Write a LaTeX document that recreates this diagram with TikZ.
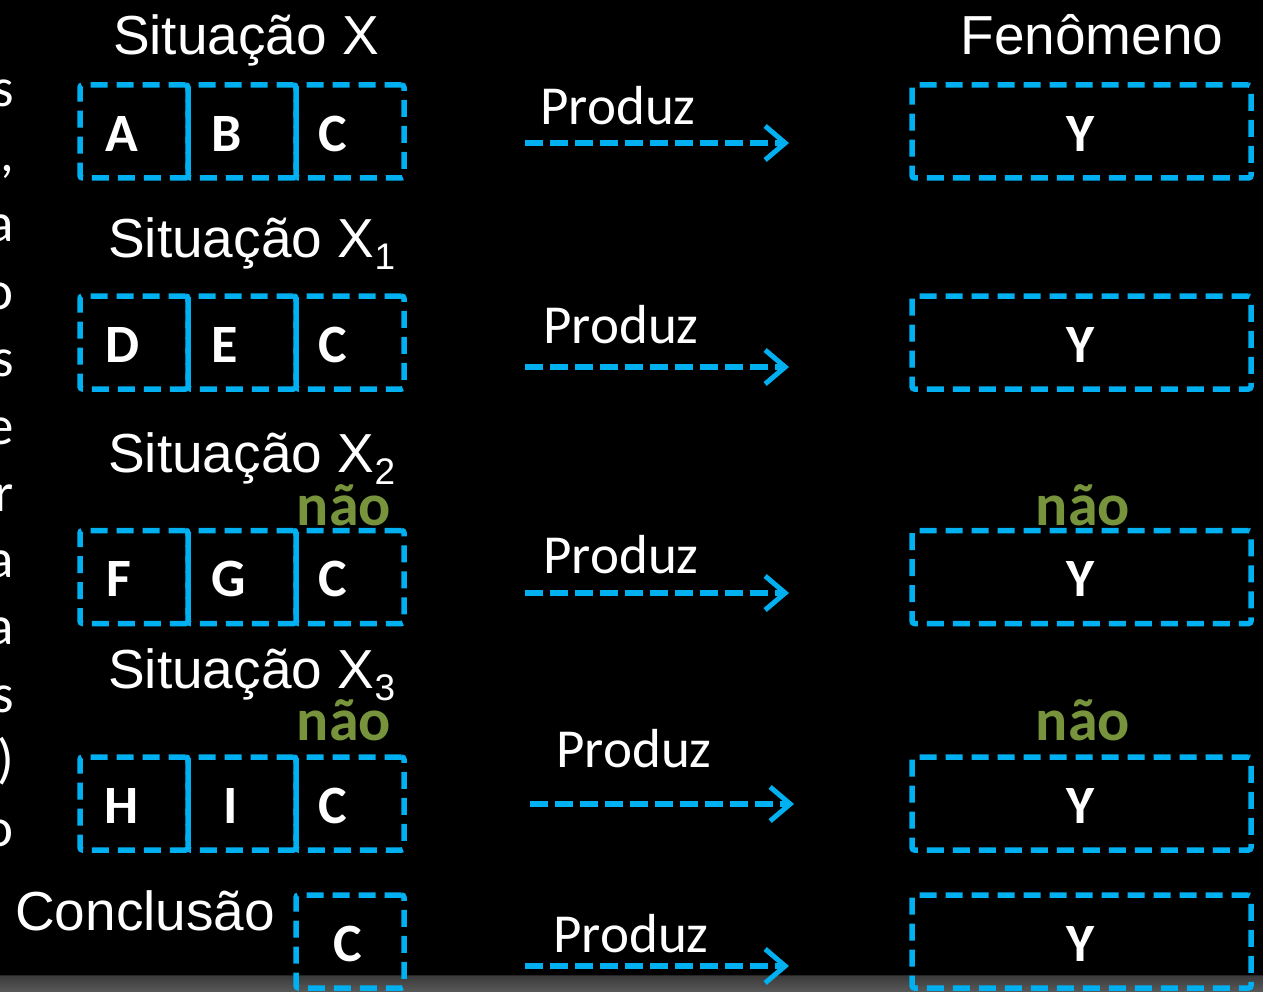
\documentclass[tikz,border=0pt]{standalone}
\usepackage{fontspec}
\setmainfont{Liberation Sans}
\newfontfamily\calibri{Carlito}
\usetikzlibrary{arrows.meta}
\definecolor{skyblue}{HTML}{00B0F0}
\definecolor{olivegreen}{HTML}{77933C}
\begin{document}
\begin{tikzpicture}[x=1pt,y=-1pt,
  dbox/.style={draw=skyblue, line width=5.5pt, dash pattern=on 17pt off 9pt,
    rounded corners=2.5pt, minimum width=108pt, minimum height=93pt, inner sep=0pt},
  ybox/.style={dbox, minimum width=339pt},
  letter/.style={text=white, font=\calibri\bfseries\fontsize{54}{54}\selectfont, inner sep=0pt},
  title/.style={text=white, font=\fontsize{55}{60}\selectfont, inner sep=0pt, anchor=base},
  sub/.style={text=white, font=\fontsize{37}{40}\selectfont, inner sep=0pt, anchor=base west},
  produz/.style={text=white, font=\calibri\fontsize{55}{60}\selectfont, inner sep=0pt, anchor=base},
  nao/.style={text=olivegreen, font=\calibri\bfseries\fontsize{60}{60}\selectfont, inner sep=0pt, anchor=base},
  edge/.style={text=white, font=\calibri\fontsize{55}{60}\selectfont, inner sep=0pt, anchor=base east},
  flow/.style={draw=skyblue, line width=6pt, dash pattern=on 18pt off 7pt,
    -{Straight Barb[length=20pt,width=34pt,line width=5pt]}}
]
\useasboundingbox (0,0) rectangle (1263,992);
\fill[black] (0,0) rectangle (1263,992);
% stone strip along the lower edge
\shade[top color=gray!45!black, bottom color=gray!70!black] (0,975) rectangle (1263,992);
\draw[gray!30!black, line width=1.5pt] (0,975.5) -- (1263,975.5);

% ends of the text column at the left edge
\foreach \ch/\yy [count=\i] in {s/107, {,}/172, a/242, o/309, s/376, e/444, r/511, a/577, a/644, s/712, )/777, o/846}
  \node[edge] (edge\i) at (14,\yy) {\ch};

% headings
\node[title] (t0) at (246,55) {Situação X};
\node[title] (fen) at (1092,55) {Fenômeno};
\node[title, anchor=base west] (t1) at (108,258) {Situação X};
\node[sub] (t1s) at (t1.base east) {\raisebox{-12pt}{1}};
\node[title, anchor=base west] (t2) at (108,472) {Situação X};
\node[sub] (t2s) at (t2.base east) {\raisebox{-12pt}{2}};
\node[title, anchor=base west] (t3) at (108,688) {Situação X};
\node[sub] (t3s) at (t3.base east) {\raisebox{-12pt}{3}};
\node[title, anchor=base west] (concl) at (15,930) {Conclusão};

% situation boxes
\foreach \r/\yy/\la/\lb/\xa/\xb in {1/131.5/A/B/122/227, 2/342.5/D/E/123/225, 3/577/F/G/119/229, 4/803.5/H/I/122/231}{
  \node[dbox] (a\r) at (134,\yy) {};
  \node[dbox] (b\r) at (242,\yy) {};
  \node[dbox] (c\r) at (350,\yy) {};
  \node[ybox] (y\r) at (1081.5,\yy) {};
  \node[letter] (la\r) at (\xa,\yy+2) {\la};
  \node[letter] (lb\r) at (\xb,\yy+2) {\lb};
  \node[letter] (lc\r) at (333,\yy+2) {C};
  \node[letter] (ly\r) at (1081,\yy+2) {Y};
}
\node[dbox] (c5) at (350,941.5) {};
\node[ybox] (y5) at (1081.5,941.5) {};
\node[letter] (lc5) at (348,944) {C};
\node[letter] (ly5) at (1081,944) {Y};

% negations
\node[nao] (n3l) at (344,525) {não};
\node[nao] (n3r) at (1083,525) {não};
\node[nao] (n4l) at (344,740) {não};
\node[nao] (n4r) at (1083,740) {não};

% "Produz" arrows
\foreach \r/\yy/\xs/\xe/\px/\py in {1/143/525/789/618/125, 2/367/525/789/621/343, 3/593/525/789/621/573, 4/804/530/794/634/767, 5/966/525/789/631/952}{
  \coordinate (s\r) at (\xs,\yy);
  \coordinate (e\r) at (\xe,\yy);
  \draw[flow] (s\r) -- (e\r);
  \node[produz] (p\r) at (\px,\py) {Produz};
}
\end{tikzpicture}
\end{document}
